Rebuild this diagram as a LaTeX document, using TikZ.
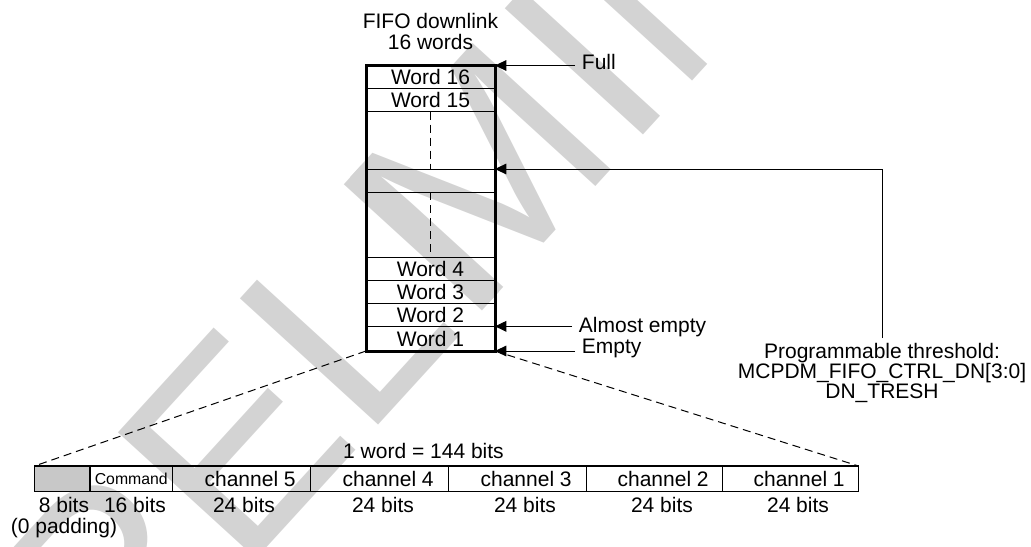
\documentclass[tikz,border=0pt]{standalone}
\usepackage{fontspec}
\setmainfont{Liberation Sans}
\usepackage{tikz}
\usetikzlibrary{arrows.meta, positioning}
\definecolor{wmark}{HTML}{D3D3D3}
\definecolor{padgray}{HTML}{C8C8C8}
\tikzset{
	txt/.style={inner sep=0pt, font=\fontsize{15.75}{15.75}\selectfont},
	fiforow/.style={txt, draw=black, line width=0.75pt, outer sep=0pt,
		minimum width=96.75pt, minimum height=17.25pt},
	cell/.style={draw=black, line width=1pt, outer sep=0pt, inner sep=0pt,
		minimum height=19.125pt},
	celltxt/.style={txt, xshift=6.5pt},
	flag/.style={txt, anchor=base west, inner xsep=5pt},
	arr/.style={-{Triangle[length=8.5pt, width=8pt]}, line width=0.75pt},
	dashline/.style={line width=0.75pt, dash pattern=on 6pt off 3.75pt},
}

\begin{document}
\begin{tikzpicture}[x=0.75pt, y=-0.75pt]
			\useasboundingbox (0,0) rectangle (1031,546);
			% watermark
			\begin{scope}
				\clip (0,0) rectangle (1031,546);
				\node[text=wmark, inner sep=0pt, anchor=base west, rotate=47.6,
					font=\fontsize{204}{204}\selectfont] (wm) at (-13.4,854.4) {PRELI\kern-48pt MINARY};
			\end{scope}
			% fifo
			\node[txt, align=center, anchor=north] (title) at (430.5,13) {FIFO downlink\\16 words};
			\node[fiforow, anchor=north] (w16) at (430.5,65.5) {Word 16};
			\node[fiforow, below=0pt of w16] (w15) {Word 15};
			\node[fiforow, below=0pt of w15, minimum height=43.125pt] (gapA) {};
			\node[fiforow, below=0pt of gapA] (thr) {};
			\node[fiforow, below=0pt of thr, minimum height=49pt] (gapB) {};
			\node[fiforow, below=0pt of gapB] (w4) {Word 4};
			\node[fiforow, below=0pt of w4] (w3) {Word 3};
			\node[fiforow, below=0pt of w3] (w2) {Word 2};
			\node[fiforow, below=0pt of w2, minimum height=18.5pt] (w1) {Word 1};
			\draw[line width=2.25pt] (w16.north west) rectangle (w1.south east);
			\draw[dashline] (gapA.north) -- (gapA.south);
			\draw[dashline] (gapB.north) -- (gapB.south);
			% flags
			\node[flag] (full) at (575,69) {Full};
			\node[flag] (almost) at (572,332.5) {Almost empty};
			\node[flag] (empty) at (575,353.4) {Empty};
			\draw[arr] (full.west |- w16.north east) -- (w16.north east);
			\draw[arr] (almost.west |- w2.south east) -- (w2.south east);
			\draw[arr] (empty.west |- w1.south east) -- (w1.south east);
			\node[txt, align=center, anchor=north, font=\fontsize{15.75}{15}\selectfont] (thrlbl) at (882,343)
			{Programmable threshold:\\MCPDM\_FIFO\_CTRL\_DN[3:0]\\DN\_TRESH};
			\draw[arr] ([yshift=3.75pt]thrlbl.north) |- (thr.north east);
			% word layout
			\node[txt, anchor=base] (wordlen) at (423.5,458) {1 word = 144 bits};
			\node[cell, fill=padgray, minimum width=41.625pt, anchor=north west] (pad) at (34.5,466) {};
			\node[cell, minimum width=61.875pt, right=0pt of pad, font=\fontsize{11.85}{12}\selectfont] (cmd) {Command};
			\node[cell, minimum width=103.5pt, right=0pt of cmd, label={[celltxt]center:channel 5}] (ch5) {};
			\node[cell, minimum width=103.5pt, right=0pt of ch5, label={[celltxt]center:channel 4}] (ch4) {};
			\node[cell, minimum width=103.5pt, right=0pt of ch4, label={[celltxt]center:channel 3}] (ch3) {};
			\node[cell, minimum width=102pt, right=0pt of ch3, label={[celltxt]center:channel 2}] (ch2) {};
			\node[cell, minimum width=102pt, right=0pt of ch2, label={[celltxt]center:channel 1}] (ch1) {};
			\draw[dashline] (w1.south west) -- (pad.north west);
			\draw[dashline] (w1.south east) -- (ch1.north east);
			\node[txt, align=center, anchor=north] (bpad) at (64,497) {8 bits\\(0 padding)};
			\node[txt, anchor=base] (bcmd) at (135,512) {16 bits};
			\node[txt, anchor=base] (bch5) at (244,512) {24 bits};
			\node[txt, anchor=base] (bch4) at (383,512) {24 bits};
			\node[txt, anchor=base] (bch3) at (525,512) {24 bits};
			\node[txt, anchor=base] (bch2) at (662,512) {24 bits};
			\node[txt, anchor=base] (bch1) at (798,512) {24 bits};
		\end{tikzpicture}
\end{document}
